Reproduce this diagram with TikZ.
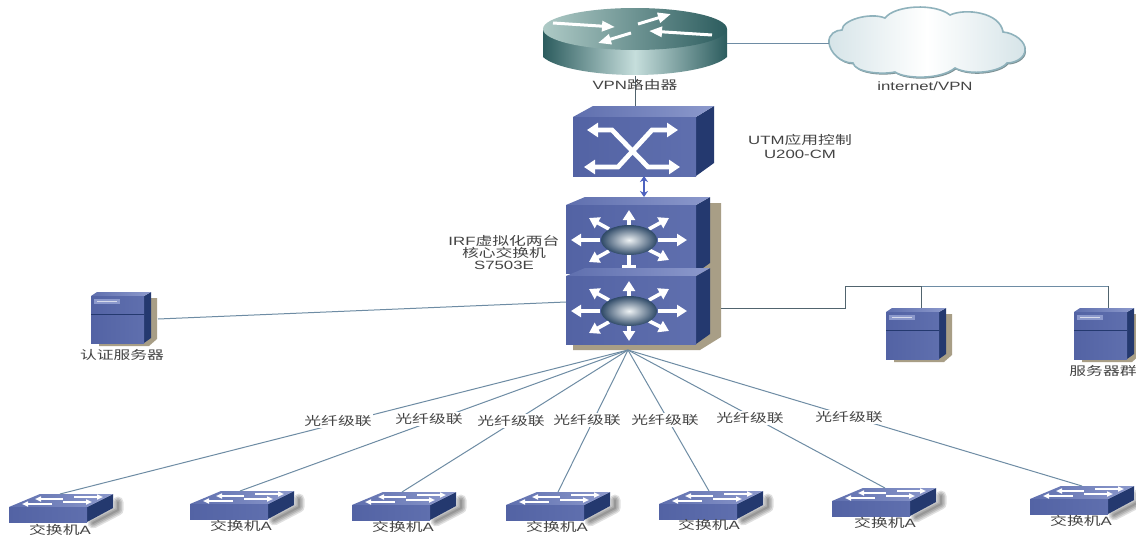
\documentclass[tikz,border=0pt]{standalone}
\usepackage{fontspec}
\usepackage{graphicx}
\setmainfont{Liberation Sans}
\newfontfamily\cjk{Noto Sans CJK SC}
\usetikzlibrary{arrows.meta}
\definecolor{devfront}{HTML}{5F6FAE}
\definecolor{devfrontd}{HTML}{5363A4}
\definecolor{devtop}{HTML}{8C99CC}
\definecolor{devside}{HTML}{24396F}
\definecolor{devshadow}{HTML}{A89E86}
\definecolor{linkblue}{HTML}{6E8CA4}
\definecolor{linkgrey}{HTML}{51646E}
\definecolor{txt}{HTML}{444444}
\definecolor{rdark}{HTML}{2C5C5E}
\definecolor{rmid}{HTML}{C6DEDC}
\definecolor{rlight}{HTML}{AECAC6}
\definecolor{ballout}{HTML}{2F4A68}
\definecolor{ballin}{HTML}{EEF2F4}
\definecolor{cloudedge}{HTML}{8FB2BC}
\definecolor{cloudrim}{HTML}{7C8F92}
\definecolor{cloudside}{HTML}{D6E4E8}
\newcommand\lb[1]{\scalebox{1.4}[1]{#1}}
\tikzset{
  front/.style={left color=devfrontd,right color=devfront,draw=none},
  topface/.style={left color=devfront,right color=devtop,draw=none},
  sideface/.style={fill=devside,draw=none},
  lbl/.style={font=\fontsize{12}{13}\selectfont,text=txt,inner sep=0pt,align=center},
  fibre/.style={lbl,fill=white,inner xsep=1pt,inner ysep=1pt},
  anchorbox/.style={inner sep=0pt,draw=none,fill=none},
  link/.style={draw=linkblue,line width=1pt},
  greylink/.style={draw=linkgrey,line width=1pt},
  whitearrow/.style={draw=white,line width=3.6pt,-{Triangle[width=12pt,length=10pt]}},
  routerarrow/.style={draw=white,line width=3pt,-{Triangle[width=10pt,length=13pt]}},
  xarrow/.style={draw=white,line width=4.8pt,line join=miter,{Triangle[width=14pt,length=11pt]}-{Triangle[width=14pt,length=11pt]}},
  swarrow/.style={draw=white,line width=1.8pt,-{Triangle[width=5pt,length=6pt]}},
  softline/.style={draw=black,opacity=0.12,line cap=round,line join=round}
}
\newcommand\serverdev[3]{
  \begin{scope}[shift={(#2,#3)}]
    \fill[devshadow] (58,2) -- (66,2) -- (66,43) -- (58,50) -- (8,50) -- (8,44) -- cycle;
    \path[sideface] (53,0) -- (60,-4) -- (60,42) -- (53,47) -- cycle;
    \path[topface] (0,0) -- (6,-4) -- (60,-4) -- (53,0) -- cycle;
    \path[front] (0,0) rectangle (53,47);
    \draw[devside,line width=0.8pt] (0,18) -- (53,18);
    \fill[devtop] (3,3) rectangle (29,8);
    \fill[white!75!devfront] (6,4.7) rectangle (26,6.3);
    \node[anchorbox,minimum width=60pt,minimum height=51pt] (#1) at (30,21.5) {};
  \end{scope}
}
\newcommand\switchdev[3]{
  \begin{scope}[shift={(#2,#3)}]
    \foreach \w in {11,8,5,2}{\draw[softline,line width=\w pt] (84,29) -- (109,16) -- (109,8);}
    \path[sideface] (78,13) -- (104,0) -- (104,14) -- (78,28) -- cycle;
    \path[topface] (0,13) -- (31,0) -- (104,0) -- (78,13) -- cycle;
    \path[front] (0,13) rectangle (78,28);
    \draw[swarrow] (65,3) -- (94,3);
    \draw[swarrow] (54,8) -- (83,8);
    \draw[swarrow] (54,5) -- (26,5);
    \draw[swarrow] (43,10) -- (13,10);
    \node[anchorbox,minimum width=104pt,minimum height=28pt] (#1) at (52,14) {};
  \end{scope}
}
\newcommand\chassis[3]{
  \path[sideface] (696,#2) -- (710,#2-8) -- (710,#2+58) -- (696,#2+68) -- cycle;
  \path[topface] (566,#2) -- (585,#2-8) -- (710,#2-8) -- (696,#2) -- cycle;
  \path[front] (566,#2) rectangle (696,#2+68);
  \foreach \ax/\ay in {-20/-11,20/-11,20/10,-20/11,29/0,-29/0,0/-15}{
    \pgfmathsetmacro\bx{\ax*2.0}
    \pgfmathsetmacro\by{\ay*2.0}
    \draw[whitearrow] (629+\ax,#2+35+\ay) -- (629+\bx,#2+35+\by);
  }
  #3
  \shade[inner color=ballin,outer color=ballout] (629,#2+35) ellipse (28 and 15);
}
\begin{document}
\begin{tikzpicture}[x=1pt,y=-1pt]
\useasboundingbox (0,0) rectangle (1136,536);
\fill[white] (0,0) rectangle (1136,536);

% router
\shade[left color=rdark,right color=rdark,middle color=rmid]
  (543,29) -- (543,57) .. controls (555,68) and (595,75) .. (635,75) .. controls (675,75) and (715,68) .. (727,57) -- (727,29) -- cycle;
\shade[left color=rlight,right color=rdark] (635,29) ellipse (92 and 21);
\draw[routerarrow] (553,23) -- (615,27);
\draw[routerarrow] (638,24) -- (671,14);
\draw[routerarrow] (712,35) -- (649,31);
\draw[routerarrow] (631,33) -- (598,43);
\node[anchorbox,minimum width=184pt,minimum height=67pt] (router) at (635,41.5) {};

% cloud
\def\cloudpath{(829,43) .. controls (828,34) and (836,30) .. (842,30)
  .. controls (842,20) and (870,12) .. (885,18)
  .. controls (895,5) and (935,3) .. (950,15)
  .. controls (965,8) and (1000,12) .. (1003,32)
  .. controls (1015,33) and (1026,42) .. (1025,50)
  .. controls (1025,58) and (1015,63) .. (1007,63)
  .. controls (1000,72) and (970,76) .. (955,68)
  .. controls (940,80) and (905,79) .. (895,72)
  .. controls (880,75) and (855,72) .. (853,63)
  .. controls (840,63) and (830,52) .. (829,43) -- cycle}
\fill[cloudrim,shift={(1,1.5)}] \cloudpath;
\shade[left color=cloudside,right color=cloudside,middle color=white,draw=cloudedge,line width=1.6pt] \cloudpath;
\node[anchorbox,minimum width=196pt,minimum height=70pt] (cloud) at (927,43) {};

% UTM
\path[sideface] (696,117) -- (714,106) -- (714,163) -- (696,176) -- cycle;
\path[topface] (573,117) -- (593,106) -- (714,106) -- (696,117) -- cycle;
\path[front] (573,117) rectangle (696,176);
\draw[xarrow] (587,130) -- (612,130) -- (648,167) -- (680,167);
\draw[xarrow] (584,167) -- (618,167) -- (652,130) -- (678,130);
\node[anchorbox,minimum width=141pt,minimum height=70pt] (utm) at (643.5,141) {};

% core
\fill[devshadow] (573,344) -- (573,350) -- (700,350) -- (721,337) -- (721,203) -- (708,203) -- cycle;
\chassis{coreA}{205}{\draw[white,line width=3.6pt] (629,252) -- (629,265); \draw[white,line width=3pt] (622,266) -- (636,266);}
\chassis{coreB}{276}{\draw[whitearrow] (629,322) -- (629,341);}
\node[anchorbox,minimum width=144pt,minimum height=77pt] (coreA) at (638,235.5) {};
\node[anchorbox,minimum width=155pt,minimum height=83pt] (coreB) at (643.5,308.5) {};
\coordinate (fan) at (628,350);
\coordinate (coreright) at (721,308);
\coordinate (coreleft) at (566,302);

% servers
\serverdev{authsrv}{91}{296}
\serverdev{srvA}{886}{312}
\serverdev{srvB}{1074}{312}
\coordinate (authport) at (158,319);
\coordinate (rightknee) at (845,286);
\coordinate (rightknee0) at (845,308);
\coordinate (srvAport) at (921,308);
\coordinate (srvBport) at (1108,308);
\coordinate (branchA) at (921,286);
\coordinate (branchB) at (1108,286);

% switches
\switchdev{swa}{9}{494}
\switchdev{swb}{190}{491}
\switchdev{swc}{352}{492}
\switchdev{swd}{506}{492}
\switchdev{swe}{659}{491}
\switchdev{swf}{832}{488}
\switchdev{swg}{1030}{486}
\coordinate (pa) at (60,494);
\coordinate (pb) at (240,491);
\coordinate (pc) at (402,492);
\coordinate (pd) at (558,492);
\coordinate (pe) at (709,491);
\coordinate (pf) at (885,488);
\coordinate (pg) at (1082,486);

% connectors
\coordinate (routerbase) at (635,76);
\coordinate (utmtop) at (635,106);
\coordinate (routerright) at (727,43);
\coordinate (cloudleft) at (829,43);
\coordinate (utmbase) at (644,176);
\coordinate (coretop) at (644,197);
\draw[greylink] (routerbase) -- (utmtop);
\draw[link] (routerright) -- (cloudleft);
\draw[draw=linkblue!70!blue,line width=1.2pt,{Stealth[length=6pt,width=8pt]}-{Stealth[length=6pt,width=8pt]}] (utmbase) -- (coretop);
\draw[link] (authport) -- (coreleft);
\draw[greylink] (coreright) -- (rightknee0) -- (rightknee) -- (branchA);
\draw[link] (branchA) -- (branchB);
\draw[greylink] (branchB) -- (srvBport);
\draw[greylink] (branchA) -- (srvAport);
\foreach \t in {pa,pb,pc,pd,pe,pf,pg}{\draw[link] (fan) -- (\t);}

% labels
\node[lbl] (lrouter) at (635,85) {\lb{VPN{\cjk 路由器}}};
\node[lbl] (lcloud) at (925,86) {\lb{internet/VPN}};
\node[lbl] (lutm) at (800,146) {\lb{UTM{\cjk 应用控制}}\\[1pt]\lb{U200-CM}};
\node[lbl] (lcore) at (504,252) {\lb{IRF{\cjk 虚拟化两台}}\\[-1pt]\lb{\cjk 核心交换机}\\[-1pt]\lb{S7503E}};
\node[lbl] (lauth) at (122,355) {\lb{\cjk 认证服务器}};
\node[lbl] (lsrv) at (1103,371) {\lb{\cjk 服务器群}};
\foreach \n/\x/\y in {a/338/421,b/429/419,c/511/421,d/587/420,e/665/420,f/750/418,g/849/417}{
  \node[fibre] (f\n) at (\x,\y) {\lb{\cjk 光纤级联}};
}
\foreach \n/\x/\y in {a/60/530,b/241/526,c/403/527,d/557/527,e/709/525,f/885/523,g/1081/521}{
  \node[lbl] (s\n) at (\x,\y) {\lb{{\cjk 交换机}A}};
}
\end{tikzpicture}
\end{document}
